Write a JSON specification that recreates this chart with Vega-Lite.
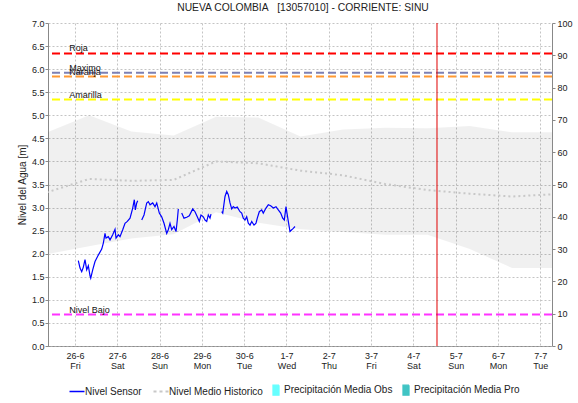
{
  "$schema": "https://vega.github.io/schema/vega-lite/v6.json",
  "width": 504,
  "height": 323,
  "autosize": {"type": "none"},
  "padding": {"left": 48, "top": 23, "right": 26, "bottom": 57},
  "title": {"text": "NUEVA COLOMBIA\u00a0\u00a0\u00a0[13057010] - CORRIENTE: SINU", "fontSize": 10.3, "fontWeight": "normal", "font": "Liberation Sans", "color": "#222", "offset": 6, "anchor": "middle", "dx": 3},
  "config": {
    "font": "Liberation Sans",
    "view": {"stroke": null},
    "axis": {"labelFont": "Liberation Sans", "labelFontSize": 9, "labelColor": "#222", "titleFont": "Liberation Sans", "titleFontWeight": "normal", "titleFontSize": 10, "titleColor": "#222", "domainColor": "#888", "tickColor": "#888", "gridColor": "#c4c4c4", "gridDash": [2, 2]},
    "axisLeft": {"tickCount": 15, "labelOverlap": false, "format": ".1f"},
    "axisRight": {"tickCount": 11, "labelOverlap": false}
  },
  "datasets": {
    "hist": [
      {"t": "2020-06-25T08:00", "lo": 1.99, "hi": 4.63, "mean": 3.33},
      {"t": "2020-06-26T08:00", "lo": 2.16, "hi": 5.0, "mean": 3.62},
      {"t": "2020-06-27T08:00", "lo": 2.33, "hi": 4.65, "mean": 3.58},
      {"t": "2020-06-28T08:00", "lo": 2.42, "hi": 4.56, "mean": 3.6},
      {"t": "2020-06-29T08:00", "lo": 2.9, "hi": 4.97, "mean": 4.0},
      {"t": "2020-06-30T08:00", "lo": 2.67, "hi": 4.95, "mean": 3.96},
      {"t": "2020-07-01T08:00", "lo": 2.53, "hi": 4.54, "mean": 3.8},
      {"t": "2020-07-02T08:00", "lo": 2.47, "hi": 4.69, "mean": 3.7},
      {"t": "2020-07-03T08:00", "lo": 2.41, "hi": 4.73, "mean": 3.51},
      {"t": "2020-07-04T08:00", "lo": 2.41, "hi": 4.72, "mean": 3.38},
      {"t": "2020-07-05T08:00", "lo": 2.1, "hi": 4.77, "mean": 3.3},
      {"t": "2020-07-06T08:00", "lo": 1.69, "hi": 4.63, "mean": 3.24},
      {"t": "2020-07-07T08:00", "lo": 1.69, "hi": 4.63, "mean": 3.29}
    ],
    "sensor": [
      {"t": "2020-06-26T01:52", "v": 1.85, "s": 1},
      {"t": "2020-06-26T02:50", "v": 1.69, "s": 1},
      {"t": "2020-06-26T03:48", "v": 1.61, "s": 1},
      {"t": "2020-06-26T04:43", "v": 1.71, "s": 1},
      {"t": "2020-06-26T05:40", "v": 1.87, "s": 1},
      {"t": "2020-06-26T06:38", "v": 1.65, "s": 1},
      {"t": "2020-06-26T07:33", "v": 1.74, "s": 1},
      {"t": "2020-06-26T08:31", "v": 1.52, "s": 1},
      {"t": "2020-06-26T08:55", "v": 1.47, "s": 1},
      {"t": "2020-06-26T10:02", "v": 1.65, "s": 1},
      {"t": "2020-06-26T11:21", "v": 1.83, "s": 1},
      {"t": "2020-06-26T13:13", "v": 1.97, "s": 1},
      {"t": "2020-06-26T15:09", "v": 2.1, "s": 1},
      {"t": "2020-06-26T16:04", "v": 2.23, "s": 1},
      {"t": "2020-06-26T17:01", "v": 2.44, "s": 1},
      {"t": "2020-06-26T17:35", "v": 2.34, "s": 1},
      {"t": "2020-06-26T18:53", "v": 2.37, "s": 1},
      {"t": "2020-06-26T19:52", "v": 2.3, "s": 1},
      {"t": "2020-06-26T21:23", "v": 2.41, "s": 1},
      {"t": "2020-06-26T22:42", "v": 2.53, "s": 1},
      {"t": "2020-06-26T23:16", "v": 2.34, "s": 1},
      {"t": "2020-06-27T00:34", "v": 2.41, "s": 1},
      {"t": "2020-06-27T01:32", "v": 2.37, "s": 1},
      {"t": "2020-06-27T03:04", "v": 2.52, "s": 1},
      {"t": "2020-06-27T04:22", "v": 2.66, "s": 1},
      {"t": "2020-06-27T05:41", "v": 2.7, "s": 1},
      {"t": "2020-06-27T07:13", "v": 2.77, "s": 1},
      {"t": "2020-06-27T08:44", "v": 2.99, "s": 1},
      {"t": "2020-06-27T09:39", "v": 3.17, "s": 1},
      {"t": "2020-06-27T10:13", "v": 2.95, "s": 1},
      {"t": "2020-06-27T11:01", "v": 3.1, "s": 1},
      {"t": "2020-06-27T11:35", "v": 3.15, "s": 1},
      {"t": "2020-06-27T13:51", "v": 2.73, "s": 2},
      {"t": "2020-06-27T15:09", "v": 2.84, "s": 2},
      {"t": "2020-06-27T16:41", "v": 3.1, "s": 2},
      {"t": "2020-06-27T17:35", "v": 3.13, "s": 2},
      {"t": "2020-06-27T18:34", "v": 3.06, "s": 2},
      {"t": "2020-06-27T20:05", "v": 3.1, "s": 2},
      {"t": "2020-06-27T21:23", "v": 3.02, "s": 2},
      {"t": "2020-06-27T22:22", "v": 3.1, "s": 2},
      {"t": "2020-06-27T23:50", "v": 2.88, "s": 2},
      {"t": "2020-06-28T01:11", "v": 2.8, "s": 2},
      {"t": "2020-06-28T02:30", "v": 2.66, "s": 2},
      {"t": "2020-06-28T04:02", "v": 2.44, "s": 2},
      {"t": "2020-06-28T04:56", "v": 2.52, "s": 2},
      {"t": "2020-06-28T05:54", "v": 2.66, "s": 2},
      {"t": "2020-06-28T06:52", "v": 2.52, "s": 2},
      {"t": "2020-06-28T08:10", "v": 2.59, "s": 2},
      {"t": "2020-06-28T09:19", "v": 2.48, "s": 2},
      {"t": "2020-06-28T10:03", "v": 2.73, "s": 2},
      {"t": "2020-06-28T10:37", "v": 2.97, "s": 2},
      {"t": "2020-06-28T12:32", "v": 2.88, "s": 3},
      {"t": "2020-06-28T13:51", "v": 2.77, "s": 3},
      {"t": "2020-06-28T15:23", "v": 2.79, "s": 3},
      {"t": "2020-06-28T16:51", "v": 2.82, "s": 3},
      {"t": "2020-06-28T18:47", "v": 2.97, "s": 3},
      {"t": "2020-06-28T20:05", "v": 2.91, "s": 3},
      {"t": "2020-06-28T21:23", "v": 2.8, "s": 3},
      {"t": "2020-06-28T22:32", "v": 2.7, "s": 3},
      {"t": "2020-06-28T23:29", "v": 2.84, "s": 3},
      {"t": "2020-06-29T00:48", "v": 2.8, "s": 3},
      {"t": "2020-06-29T01:46", "v": 2.73, "s": 3},
      {"t": "2020-06-29T02:44", "v": 2.7, "s": 3},
      {"t": "2020-06-29T03:38", "v": 2.84, "s": 3},
      {"t": "2020-06-29T04:36", "v": 2.77, "s": 3},
      {"t": "2020-06-29T05:10", "v": 2.86, "s": 3},
      {"t": "2020-06-29T11:14", "v": 2.91, "s": 4},
      {"t": "2020-06-29T11:49", "v": 2.88, "s": 4},
      {"t": "2020-06-29T13:07", "v": 3.24, "s": 4},
      {"t": "2020-06-29T14:05", "v": 3.35, "s": 4},
      {"t": "2020-06-29T14:59", "v": 3.28, "s": 4},
      {"t": "2020-06-29T15:57", "v": 3.1, "s": 4},
      {"t": "2020-06-29T16:55", "v": 2.97, "s": 4},
      {"t": "2020-06-29T17:49", "v": 3.02, "s": 4},
      {"t": "2020-06-29T18:47", "v": 2.99, "s": 4},
      {"t": "2020-06-29T20:05", "v": 3.01, "s": 4},
      {"t": "2020-06-29T21:37", "v": 2.91, "s": 4},
      {"t": "2020-06-29T22:35", "v": 2.88, "s": 4},
      {"t": "2020-06-29T23:29", "v": 2.77, "s": 4},
      {"t": "2020-06-30T00:28", "v": 2.73, "s": 4},
      {"t": "2020-06-30T01:25", "v": 2.8, "s": 4},
      {"t": "2020-06-30T02:20", "v": 2.66, "s": 4},
      {"t": "2020-06-30T03:18", "v": 2.62, "s": 4},
      {"t": "2020-06-30T04:16", "v": 2.7, "s": 4},
      {"t": "2020-06-30T05:34", "v": 2.62, "s": 4},
      {"t": "2020-06-30T06:42", "v": 2.66, "s": 4},
      {"t": "2020-06-30T07:26", "v": 2.77, "s": 4},
      {"t": "2020-06-30T08:34", "v": 2.91, "s": 4},
      {"t": "2020-06-30T09:56", "v": 2.95, "s": 4},
      {"t": "2020-06-30T10:50", "v": 2.88, "s": 4},
      {"t": "2020-06-30T12:22", "v": 2.99, "s": 4},
      {"t": "2020-06-30T13:41", "v": 3.06, "s": 4},
      {"t": "2020-06-30T15:02", "v": 3.04, "s": 4},
      {"t": "2020-06-30T16:31", "v": 2.99, "s": 4},
      {"t": "2020-06-30T18:03", "v": 3.02, "s": 4},
      {"t": "2020-06-30T19:21", "v": 2.95, "s": 4},
      {"t": "2020-06-30T20:43", "v": 2.88, "s": 4},
      {"t": "2020-06-30T21:51", "v": 2.77, "s": 4},
      {"t": "2020-06-30T22:46", "v": 2.73, "s": 4},
      {"t": "2020-06-30T23:43", "v": 3.02, "s": 4},
      {"t": "2020-07-01T00:17", "v": 2.88, "s": 4},
      {"t": "2020-07-01T01:02", "v": 2.7, "s": 4},
      {"t": "2020-07-01T01:59", "v": 2.48, "s": 4},
      {"t": "2020-07-01T02:58", "v": 2.52, "s": 4},
      {"t": "2020-07-01T03:52", "v": 2.55, "s": 4},
      {"t": "2020-07-01T04:49", "v": 2.59, "s": 4}
    ],
    "thr": [
      {"name": "Roja", "value": 6.34},
      {"name": "Maximo", "value": 5.92},
      {"name": "Naranja", "value": 5.84},
      {"name": "Amarilla", "value": 5.34},
      {"name": "Nivel Bajo", "value": 0.68}
    ],
    "event": [
      {"event": "pronostico", "t": "2020-07-04T13:24"}
    ]
  },
  "layer": [
    {
      "layer": [
        {
          "data": {"name": "hist"},
          "mark": {"type": "area", "color": "#000000", "opacity": 0.06, "clip": true},
          "encoding": {
            "x": {"field": "t", "type": "temporal",
              "scale": {"domain": ["2020-06-25T08:40", "2020-07-07T06:40"]},
              "axis": {
                "tickCount": {"interval": "day", "step": 1},
                "labelExpr": "[timeFormat(datum.value, '%-d-%-m'), timeFormat(datum.value, '%a')]",
                "ticks": false, "tickSize": 0, "labelPadding": 5, "labelLineHeight": 10,
                "grid": true, "title": null, "domainDash": [1, 1], "domainColor": "#555",
                "labelFlush": false, "labelOverlap": false
              }
            },
            "y": {"field": "lo", "type": "quantitative", "scale": {"domain": [0, 7], "nice": false},
              "axis": {"orient": "left", "values": [0, 0.5, 1, 1.5, 2, 2.5, 3, 3.5, 4, 4.5, 5, 5.5, 6, 6.5, 7], "tickCount": 15, "format": ".1f",
                "title": "Nivel del Agua [m]", "tickSize": 3, "labelPadding": 1, "titlePadding": 4, "grid": true, "labelOverlap": false, "labelFlush": false}},
            "y2": {"field": "hi"}
          }
        },
        {
          "data": {"name": "hist"},
          "mark": {"type": "line", "strokeDash": [2, 3], "strokeWidth": 2, "clip": true},
          "encoding": {
            "x": {"field": "t", "type": "temporal"},
            "y": {"field": "mean", "type": "quantitative"},
            "color": {"datum": "Nivel Medio Historico", "type": "nominal",
              "scale": {"domain": ["Nivel Sensor", "Nivel Medio Historico", "Precipitación Media Obs", "Precipitación Media Pro"], "range": ["#0000ff", "#c8c8c8", "#66ffff", "#40c4c4"]},
              "legend": {
                "orient": "none", "legendX": 24, "legendY": 362, "direction": "horizontal", "title": null,
                "labelFontSize": 10, "labelFont": "Liberation Sans", "labelColor": "#222",
                "symbolSize": 225, "labelOffset": 3, "columnPadding": 7, "padding": 0, "symbolType": "stroke",
                "encode": {"symbols": {"update": {
                  "shape": {"signal": "datum.value === 'Nivel Sensor' || datum.value === 'Nivel Medio Historico' ? 'stroke' : 'M-0.4,-0.67H0.4V0.67H-0.4Z'"},
                  "fill": {"signal": "datum.value === 'Precipitación Media Obs' ? '#66ffff' : (datum.value === 'Precipitación Media Pro' ? '#40c4c4' : 'transparent')"},
                  "stroke": {"signal": "datum.value === 'Nivel Sensor' ? '#0000ff' : (datum.value === 'Nivel Medio Historico' ? '#c8c8c8' : 'transparent')"},
                  "strokeDash": {"signal": "datum.value === 'Nivel Medio Historico' ? [3, 3] : [1, 0]"},
                  "strokeWidth": {"signal": "datum.value === 'Nivel Medio Historico' ? 2 : 1.3"}
                }}}
              }
            }
          }
        },
        {
          "data": {"name": "sensor"},
          "mark": {"type": "line", "strokeWidth": 1.2, "clip": true},
          "encoding": {
            "x": {"field": "t", "type": "temporal"},
            "y": {"field": "v", "type": "quantitative"},
            "detail": {"field": "s", "type": "nominal"},
            "color": {"datum": "Nivel Sensor", "type": "nominal"}
          }
        },
        {
          "data": {"name": "thr"},
          "mark": {"type": "rule", "strokeDash": [8, 4], "strokeWidth": 2},
          "encoding": {
            "y": {"field": "value", "type": "quantitative"},
            "stroke": {"field": "name", "type": "nominal",
              "scale": {"domain": ["Roja", "Maximo", "Naranja", "Amarilla", "Nivel Bajo"], "range": ["#ff0000", "#7c80b4", "#ff9933", "#ffff00", "#ff33ff"]},
              "legend": null}
          }
        },
        {
          "data": {"name": "thr"},
          "mark": {"type": "text", "align": "left", "baseline": "bottom", "fontSize": 9, "font": "Liberation Sans", "color": "#111"},
          "encoding": {
            "x": {"datum": {"year": 2020, "month": 6, "date": 25, "hours": 20, "minutes": 45}, "type": "temporal"},
            "y": {"field": "value", "type": "quantitative"},
            "text": {"field": "name"}
          }
        }
      ]
    },
    {
      "data": {"name": "event"},
      "mark": {"type": "rule", "color": "#e00000", "strokeWidth": 1},
      "encoding": {
        "x": {"field": "t", "type": "temporal"},
        "y": {"datum": 0, "type": "quantitative", "scale": {"domain": [0, 100], "nice": false},
          "axis": {"orient": "right", "values": [0, 10, 20, 30, 40, 50, 60, 70, 80, 90, 100], "tickCount": 11, "grid": false, "title": null, "tickSize": 3, "labelPadding": 2}},
        "y2": {"datum": 100}
      }
    }
  ],
  "resolve": {"scale": {"y": "independent"}}
}
